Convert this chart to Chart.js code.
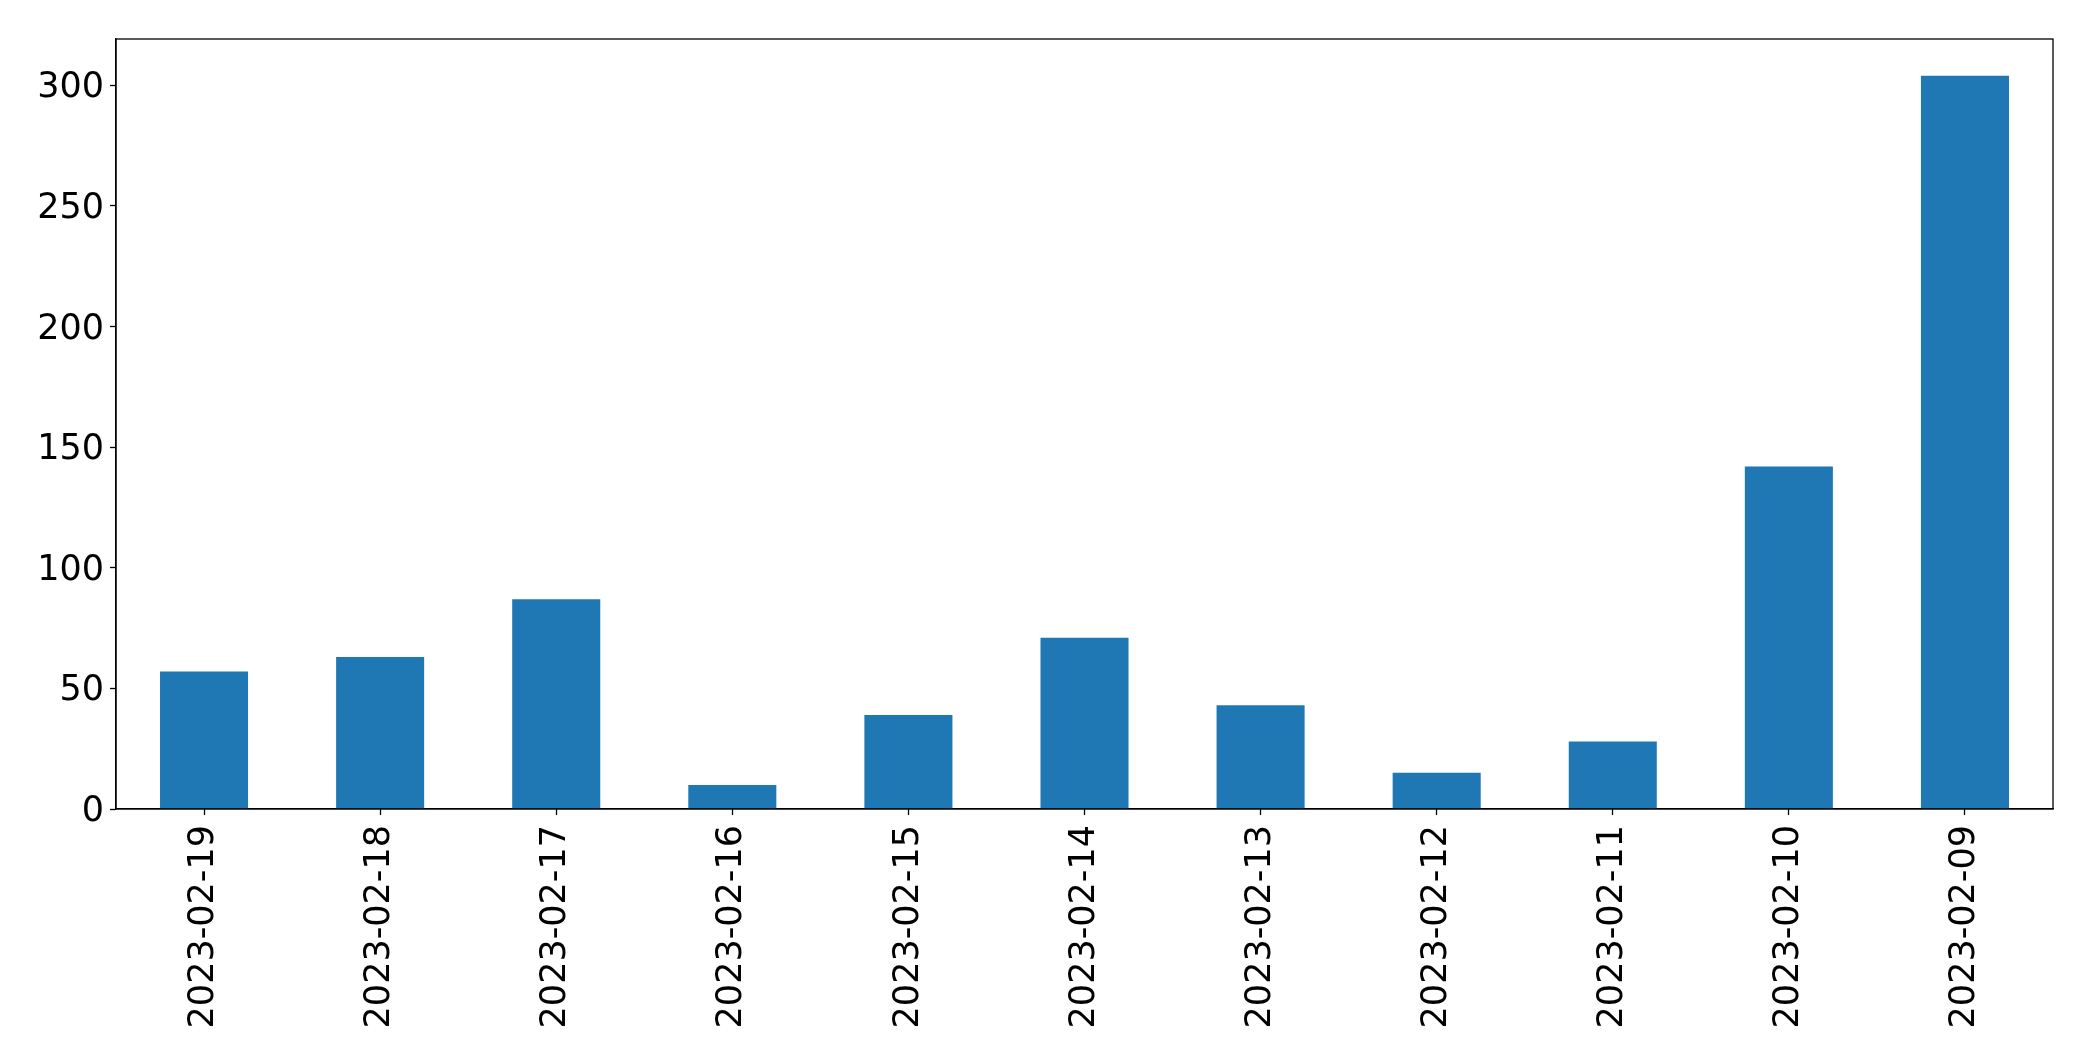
<!DOCTYPE html>
<html>
<head>
<meta charset="utf-8">
<script src="https://cdn.jsdelivr.net/npm/chart.js@4"></script>
<style>
  html, body { margin: 0; padding: 0; background: #fff; }
  #wrap { width: 2093px; height: 1061px; }
</style>
</head>
<body>
<div id="wrap"><canvas id="grafico"></canvas></div>
<script>
const fechas = ["2023-02-19", "2023-02-18", "2023-02-17", "2023-02-16", "2023-02-15",
  "2023-02-14", "2023-02-13", "2023-02-12", "2023-02-11", "2023-02-10", "2023-02-09"];
const cantidades = [57, 63, 87, 10, 39, 71, 43, 15, 28, 142, 304];
const yMax = 319.2;
const yPaso = 50;

// marco completo alrededor del area del grafico
const marco = {
  id: "marco",
  afterDraw(chart) {
    const a = chart.chartArea;
    const c = chart.ctx;
    c.save();
    c.strokeStyle = "#000";
    c.lineWidth = 1.3;
    c.strokeRect(a.left, a.top, a.right - a.left, a.bottom - a.top);
    c.restore();
  }
};

const ctx = document.getElementById("grafico").getContext("2d");
new Chart(ctx, {
  type: "bar",
  data: {
    labels: fechas,
    datasets: [{
      data: cantidades,
      backgroundColor: "#1f77b4",
      barPercentage: 0.5,
      categoryPercentage: 1.0
    }]
  },
  options: {
    animation: false,
    responsive: true,
    maintainAspectRatio: false,
    layout: { padding: { top: 39, right: 40, left: 0, bottom: 0 } },
    plugins: { legend: { display: false }, tooltip: { enabled: false } },
    scales: {
      x: {
        offset: true,
        grid: { drawOnChartArea: false, offset: false, tickLength: 6, tickColor: "#000", tickWidth: 1.3 },
        border: { display: true, color: "#000", width: 1.3 },
        ticks: {
          color: "#000",
          font: { family: "DejaVu Sans", size: 35 },
          maxRotation: 90,
          minRotation: 90,
          autoSkip: false,
          padding: 10
        },
        afterFit(scale) { scale.height = 252; }
      },
      y: {
        min: 0,
        max: yMax,
        grid: { drawOnChartArea: false, tickLength: 6, tickColor: "#000", tickWidth: 1.3 },
        border: { display: true, color: "#000", width: 1.3 },
        ticks: {
          stepSize: yPaso,
          includeBounds: false,
          color: "#000",
          font: { family: "DejaVu Sans", size: 35 },
          padding: 6,
          labelOffset: 3
        },
        afterFit(scale) { scale.width = 116; }
      }
    }
  },
  plugins: [marco]
});
</script>
</body>
</html>
